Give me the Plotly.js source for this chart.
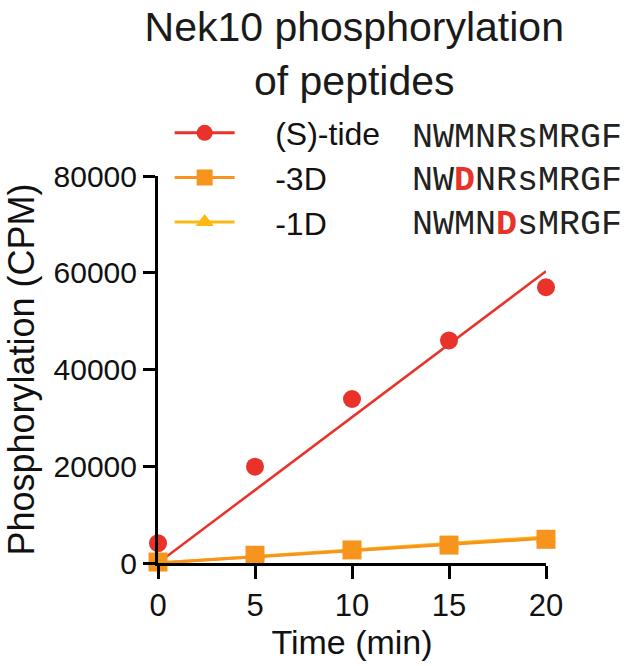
<!DOCTYPE html>
<html>
<head>
<meta charset="utf-8">
<script src="https://cdn.plot.ly/plotly-3.0.1.min.js"></script>
<style>
  html, body { margin: 0; padding: 0; background: #fff; }
  #chart { width: 627px; height: 666px; }
</style>
</head>
<body>
<div id="chart"></div>
<script>
(function () {
  'use strict';

  /* ---------- data ---------- */
  const timeMin   = [0, 5, 10, 15, 20];
  const stideCPM  = [4100, 19900, 33900, 46000, 57000];
  const minus3D   = [200, 1600, 2700, 3700, 4900];
  const minus1D   = [300, 1800, 2900, 3900, 5100];

  /* linear fits as drawn (endpoints) */
  const fitTime    = [0, 20];
  const stideFit   = [0, 60300];
  const minus3DFit = [0, 5100];
  const minus1DFit = [0, 5400];

  const yTicks     = [0, 20000, 40000, 60000, 80000];
  const yTickText  = ['0', '20000', '40000', '60000', '80000'];

  const seriesNames = ['(S)-tide', '-3D', '-1D'];
  const seqLabels = [
    'NWMNRsMRGF',
    'NW<span style="color:#e8322a"><b>D</b></span>NRsMRGF',
    'NWMN<span style="color:#e8322a"><b>D</b></span>sMRGF'
  ];

  /* ---------- styles ---------- */
  const RED    = '#e8322a';
  const ORANGE = '#f7941e';
  const YELLOW = '#fdb913';
  const SANS   = 'Liberation Sans, Arial, sans-serif';
  const MONO   = 'Liberation Mono, Courier New, monospace';
  const GAP    = '\u00a0\u00a0\u00a0\u00a0';

  function pts(y, color, symbol, size) {
    return {
      x: timeMin, y: y, type: 'scatter', mode: 'markers',
      marker: { color: color, size: size, symbol: symbol },
      cliponaxis: false, showlegend: false, hoverinfo: 'skip'
    };
  }
  function fit(y, color, w) {
    return {
      x: fitTime, y: y, type: 'scatter', mode: 'lines',
      line: { color: color, width: w },
      cliponaxis: false, showlegend: false, hoverinfo: 'skip'
    };
  }
  /* legend-only entries (line + marker symbol) */
  function key(name, color, symbol) {
    return {
      x: [null], y: [null], type: 'scatter', mode: 'lines+markers', name: GAP + name,
      line: { color: color, width: 3 },
      marker: { color: color, size: 16, symbol: symbol }
    };
  }

  const traces = [
    fit(stideFit, RED, 2.5),
    pts(stideCPM, RED, 'circle', 18),
    fit(minus1DFit, YELLOW, 3),
    pts(minus1D, YELLOW, 'triangle-up', 18),
    fit(minus3DFit, ORANGE, 3),
    pts(minus3D, ORANGE, 'square', 19),
    key(seriesNames[0], RED, 'circle'),
    key(seriesNames[1], ORANGE, 'square'),
    key(seriesNames[2], YELLOW, 'triangle-up')
  ];

  /* sequence column next to the legend */
  const seqY = [1.097, 0.986, 0.874];
  const annotations = seqLabels.map(function (t, i) {
    return {
      text: t, xref: 'paper', yref: 'paper', x: 0.65, y: seqY[i],
      xanchor: 'left', yanchor: 'middle', showarrow: false,
      font: { family: MONO, size: 35, color: '#222' }
    };
  });

  const layout = {
    width: 627, height: 666,
    paper_bgcolor: '#fff', plot_bgcolor: '#fff',
    margin: { l: 158, r: 81, t: 176, b: 103 },
    font: { family: SANS, color: '#1a1a1a' },
    title: {
      text: 'Nek10 phosphorylation<br>of peptides',
      font: { family: SANS, size: 41, color: '#1a1a1a' },
      x: 0.565, xanchor: 'center', y: 0.938, yanchor: 'top'
    },
    xaxis: {
      range: [0, 20],
      tickvals: timeMin,
      ticks: 'outside', ticklen: 13, tickwidth: 3, tickcolor: '#000',
      showline: true, linewidth: 3, linecolor: '#000',
      showgrid: false, zeroline: false,
      tickfont: { family: SANS, size: 31, color: '#111' },
      title: { text: 'Time (min)', font: { family: SANS, size: 34, color: '#111' }, standoff: 6 }
    },
    yaxis: {
      range: [0, 80000],
      tickvals: yTicks, ticktext: yTickText,
      ticks: 'outside', ticklen: 12, tickwidth: 3, tickcolor: '#000',
      showline: true, linewidth: 3, linecolor: '#000',
      showgrid: false, zeroline: false,
      tickfont: { family: SANS, size: 30, color: '#111' },
      title: { text: 'Phosphorylation (CPM)', font: { family: SANS, size: 36, color: '#111' }, standoff: 8 }
    },
    showlegend: true,
    legend: {
      x: 0.03, y: 1.182, xanchor: 'left', yanchor: 'top',
      bgcolor: 'rgba(0,0,0,0)', itemwidth: 60,
      font: { family: SANS, size: 32, color: '#111' },
      tracegroupgap: 0
    },
    annotations: annotations
  };

  Plotly.newPlot('chart', traces, layout, { displayModeBar: false, staticPlot: true });
})();
</script>
</body>
</html>
